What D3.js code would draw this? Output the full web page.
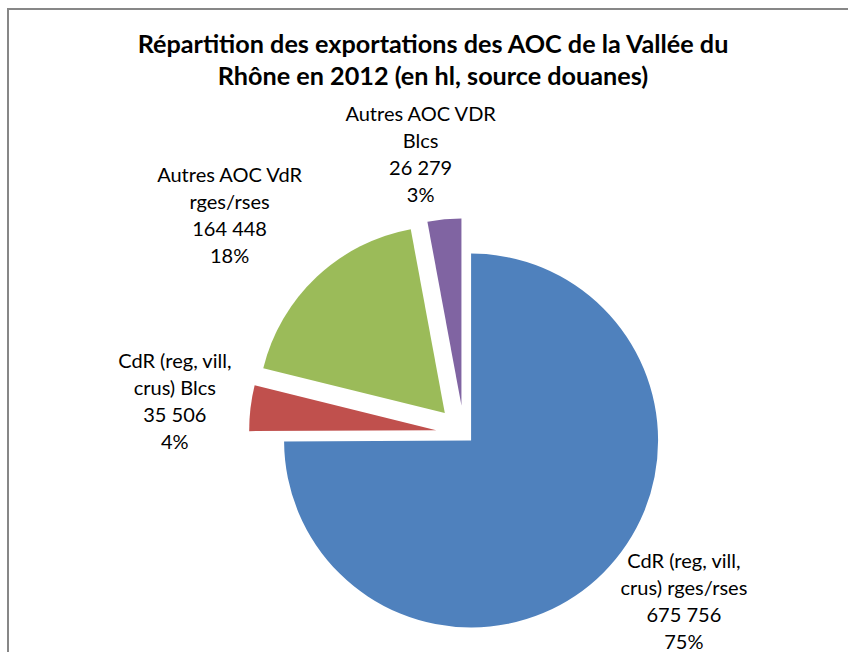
<!DOCTYPE html>
<html>
<head>
<meta charset="utf-8">
<script src="https://cdn.jsdelivr.net/npm/d3@7"></script>
<style>
  body { margin: 0; background: #fff; }
  text { font-family: Lato, "Open Sans", sans-serif; fill: #000; }
</style>
</head>
<body>
<script>
// data
var titleLines = ["Répartition des exportations des AOC de la Vallée du",
                  "Rhône en 2012 (en hl, source douanes)"]
var categories = [
    ["CdR (reg, vill,", "crus) rges/rses"],
    ["CdR (reg, vill,", "crus) Blcs"],
    ["Autres AOC VdR", "rges/rses"],
    ["Autres AOC VDR", "Blcs"]
]
var volumes = [675756, 35506, 164448, 26279]
var colors = ["#4F81BD", "#C0504D", "#9BBB59", "#8064A2"]

// layout
var width = 848, height = 652
var cx = 464, cy = 433.5, radius = 187
var explode = [10, 28, 28, 28]
var labelShift = [-7.4, -0.4, -3.8, -3.6]   // degrees
var labelDist = [277, 291, 320, 282]
var lineGap = 27

var svg = d3.select("body").append("svg")
    .attr("width", width)
    .attr("height", height)

// frame
svg.append("rect")
    .attr("x", 8).attr("y", 9)
    .attr("width", width).attr("height", height)
    .style("fill", "none")
    .style("stroke", "#878787")
    .style("stroke-width", 2)

// fit a font size so that a string gets a given width
function fitSize(str, target, weight) {
    var t = svg.append("text").text(str)
        .style("font-size", "100px")
        .style("font-weight", weight)
    var w = t.node().getComputedTextLength()
    t.remove()
    return 100 * target / w
}

var titleSize = fitSize(titleLines[0], 591, "bold")
svg.selectAll(".title")
    .data(titleLines)
    .enter().append("text")
    .attr("class", "title")
    .attr("x", 433)
    .attr("y", function(d, i) { return 53 + i * 32 })
    .attr("text-anchor", "middle")
    .style("font-weight", "bold")
    .style("font-size", titleSize + "px")
    .text(function(d) { return d })

var pie = d3.pie().sort(null).value(function(d) { return d })
var arc = d3.arc().innerRadius(0).outerRadius(radius)
var arcs = pie(volumes)
var total = d3.sum(volumes)

var g = svg.append("g").attr("transform", "translate(" + cx + "," + cy + ")")

function midAngle(d) { return (d.startAngle + d.endAngle) / 2 }

g.selectAll(".slice")
    .data(arcs)
    .enter().append("path")
    .attr("class", "slice")
    .attr("d", arc)
    .attr("transform", function(d, i) {
        var a = midAngle(d)
        return "translate(" + (explode[i] * Math.sin(a)) + "," + (-explode[i] * Math.cos(a)) + ")"
    })
    .style("fill", function(d, i) { return colors[i] })

var fmt = function(v) { return d3.format(",")(v).replace(/,/g, " ") }
var labelSize = fitSize("Autres AOC VdR", 145, "normal")

arcs.forEach(function(d, i) {
    var a = midAngle(d) + labelShift[i] * Math.PI / 180
    var lx = labelDist[i] * Math.sin(a)
    var ly = -labelDist[i] * Math.cos(a)
    var lines = categories[i].concat([fmt(volumes[i]), Math.round(100 * volumes[i] / total) + "%"])
    g.append("text")
        .attr("text-anchor", "middle")
        .style("font-size", labelSize + "px")
        .selectAll("tspan")
        .data(lines)
        .enter().append("tspan")
        .attr("x", lx)
        .attr("y", function(t, j) { return ly + 7 + (j - 1.5) * lineGap })
        .text(function(t) { return t })
})
</script>
</body>
</html>
